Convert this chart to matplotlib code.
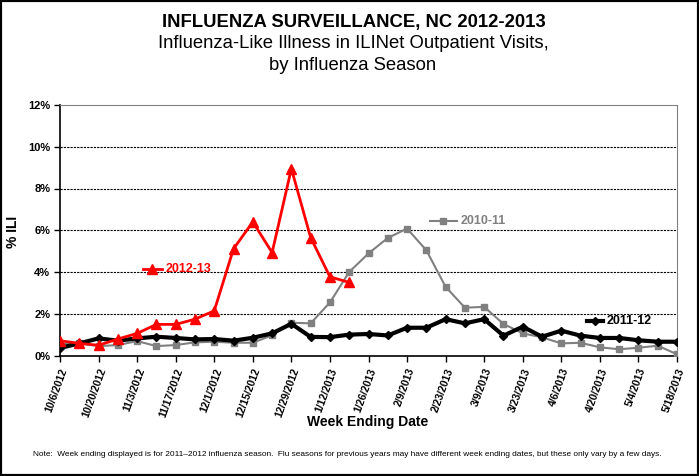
import matplotlib
matplotlib.use('Agg')
import matplotlib.pyplot as plt
from matplotlib.patches import Rectangle

plt.rcParams['font.family'] = ['Liberation Sans', 'DejaVu Sans']

# week ending dates (2011-12 season weeks)
weeks = ['10/6/2012', '10/13/2012', '10/20/2012', '10/27/2012', '11/3/2012', '11/10/2012',
         '11/17/2012', '11/24/2012', '12/1/2012', '12/8/2012', '12/15/2012', '12/22/2012',
         '12/29/2012', '1/5/2013', '1/12/2013', '1/19/2013', '1/26/2013', '2/2/2013',
         '2/9/2013', '2/16/2013', '2/23/2013', '3/2/2013', '3/9/2013', '3/16/2013',
         '3/23/2013', '3/30/2013', '4/6/2013', '4/13/2013', '4/20/2013', '4/27/2013',
         '5/4/2013', '5/11/2013', '5/18/2013']

# % ILI by season
ili_2010 = [0.55, 0.58, 0.45, 0.50, 0.69, 0.45, 0.50, 0.63, 0.66, 0.61, 0.61, 0.97, 1.57,
            1.54, 2.54, 4.00, 4.89, 5.63, 6.08, 5.04, 3.29, 2.29, 2.33, 1.51, 1.06, 0.87,
            0.58, 0.61, 0.39, 0.30, 0.37, 0.47, 0.06]
ili_2011 = [0.36, 0.58, 0.82, 0.71, 0.82, 0.90, 0.84, 0.77, 0.79, 0.71, 0.85, 1.06, 1.52,
            0.89, 0.88, 1.00, 1.03, 0.96, 1.33, 1.33, 1.74, 1.54, 1.74, 0.95, 1.38, 0.90,
            1.19, 0.95, 0.84, 0.84, 0.73, 0.66, 0.66]
ili_2012 = [0.71, 0.58, 0.49, 0.79, 1.06, 1.49, 1.49, 1.74, 2.14, 5.11, 6.40, 4.93, 8.95,
            5.65, 3.77, 3.50]

yticks = [0, 2, 4, 6, 8, 10, 12]

fig = plt.figure(figsize=(6.99, 4.76), dpi=100)
ax = fig.add_axes([60/699, 1-355.5/476, 617/699, 250.5/476])

x10 = list(range(len(ili_2010)))
x11 = list(range(len(ili_2011)))
x12 = list(range(len(ili_2012)))

ax.plot(x10, ili_2010, color='#808080', lw=1.5, marker='s', ms=4, zorder=3)
ax.plot(x11, ili_2011, color='black', lw=3, marker='D', ms=4, zorder=4)
ax.plot(x12, ili_2012, color='#ff0000', lw=2, marker='^', ms=7, zorder=5)

# in-plot series labels (axes fraction)
labs = [('2012-13', '#ff0000', '^', 7, 2, 0.1345, 0.1653, 0.345),
        ('2010-11', '#808080', 's', 4, 1.5, 0.600, 0.643, 0.537),
        ('2011-12', 'black', 'D', 4, 3, 0.854, 0.880, 0.139)]
for txt, c, m, ms, lw, x0, x1, yy in labs:
    ax.plot([x0, x1], [yy, yy], color=c, lw=lw, transform=ax.transAxes, zorder=6)
    ax.plot([(x0+x1)/2], [yy], color=c, marker=m, ms=ms, transform=ax.transAxes, zorder=6)
    ax.text(x1 + 0.006, yy, txt, color=c, fontsize=9, fontweight='bold',
            transform=ax.transAxes, va='center', ha='left', zorder=6)

ax.set_xlim(0, len(weeks)-1)
ax.set_ylim(0, 12)
ax.set_yticks(yticks)
ax.set_yticklabels(['%d%%' % v for v in yticks], fontsize=8, fontweight='bold')
ax.set_xticks(range(0, len(weeks), 2))
ax.set_xticklabels(weeks[::2], rotation=70, ha='right', va='top', fontsize=7.5,
                   fontweight='bold', rotation_mode='anchor')
ax.tick_params(axis='both', direction='out', length=4, width=1, color='black', pad=3)
ax.tick_params(axis='x', pad=4)

for v in yticks[1:-1]:
    ax.axhline(v, color='black', lw=0.8, ls=(0, (2, 1)), zorder=1)

ax.spines['left'].set_color('black')
ax.spines['bottom'].set_color('black')
ax.spines['left'].set_linewidth(1.2)
ax.spines['bottom'].set_linewidth(1.2)
ax.spines['top'].set_color('#808080')
ax.spines['right'].set_color('#808080')

fig.text(13/699, 1-232/476, '% ILI', fontsize=10, fontweight='bold', rotation=90,
         ha='center', va='center')

fig.text(368/699, 1-422/476, 'Week Ending Date', fontsize=10, fontweight='bold',
         ha='center', va='center')

fig.text(354/699, 1-22/476, 'INFLUENZA SURVEILLANCE, NC 2012-2013', fontsize=13.3,
         fontweight='bold', ha='center', va='center')
fig.text(353/699, 1-44/476, 'Influenza-Like Illness in ILINet Outpatient Visits,',
         fontsize=13.3, ha='center', va='center')
fig.text(353/699, 1-65/476, 'by Influenza Season', fontsize=13.3, ha='center', va='center')

fig.text(347/699, 1-455/476,
         'Note:  Week ending displayed is for 2011\u20132012 influenza season.  Flu seasons for '
         'previous years may have different week ending dates, but these only vary by a few days.',
         fontsize=5.95, ha='center', va='center')

fig.patches.append(Rectangle((0, 0), 1, 1, transform=fig.transFigure, fill=False,
                             edgecolor='black', lw=3))

fig.savefig('out.png', dpi=100)
